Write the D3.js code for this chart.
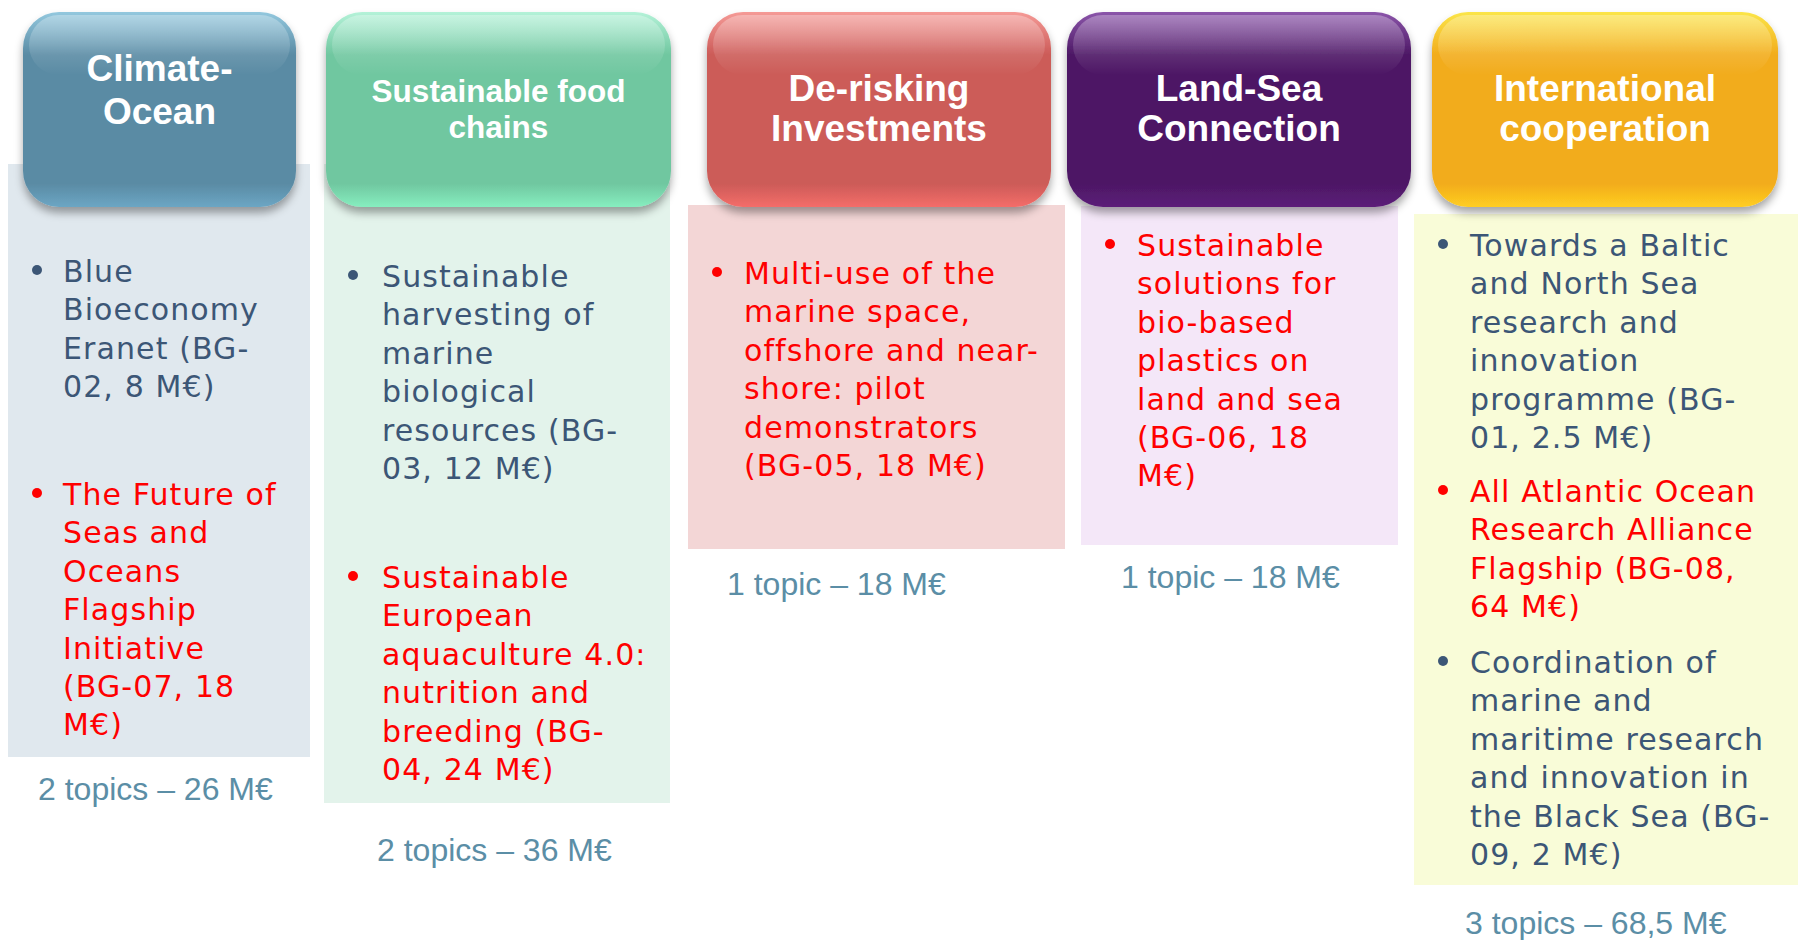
<!DOCTYPE html>
<html>
<head>
<meta charset="utf-8">
<script src="https://cdn.jsdelivr.net/npm/d3@7"></script>
<style>
  body { margin: 0; background: #fff; }
  svg { display: block; }
</style>
</head>
<body>
<div id="viz"></div>
<script>
// the five themes, their topics and totals
const themes = ["Climate-Ocean", "Sustainable food chains", "De-risking Investments", "Land-Sea Connection", "International cooperation"];
const headerLines = [
  ["Climate-", "Ocean"],
  ["Sustainable food", "chains"],
  ["De-risking", "Investments"],
  ["Land-Sea", "Connection"],
  ["International", "cooperation"]
];
// topic text per theme, as broken in the slide
const topicLines = [
  [["Blue", "Bioeconomy", "Eranet (BG-", "02, 8 M€)"],
   ["The Future of", "Seas and", "Oceans", "Flagship", "Initiative", "(BG-07, 18", "M€)"]],
  [["Sustainable", "harvesting of", "marine", "biological", "resources (BG-", "03, 12 M€)"],
   ["Sustainable", "European", "aquaculture 4.0:", "nutrition and", "breeding (BG-", "04, 24 M€)"]],
  [["Multi-use of the", "marine space,", "offshore and near-", "shore: pilot", "demonstrators", "(BG-05, 18 M€)"]],
  [["Sustainable", "solutions for", "bio-based", "plastics on", "land and sea", "(BG-06, 18", "M€)"]],
  [["Towards a Baltic", "and North Sea", "research and", "innovation", "programme (BG-", "01, 2.5 M€)"],
   ["All Atlantic Ocean", "Research Alliance", "Flagship (BG-08,", "64 M€)"],
   ["Coordination of", "marine and", "maritime research", "and innovation in", "the Black Sea (BG-", "09, 2 M€)"]]
];
// true = flagship / highlighted in red
const topicRed = [
  [false, true],
  [false, true],
  [true],
  [true],
  [false, true, false]
];
const footers = ["2 topics – 26 M€", "2 topics – 36 M€", "1 topic – 18 M€", "1 topic – 18 M€", "3 topics – 68,5 M€"];

// layout (pixels)
const W = 1798, H = 940;
const headerX = [23, 326, 707, 1067, 1432];
const headerW = [273, 345, 344, 344, 346];
const headerTop = 12, headerH = 195;
const headerTextY = [68, 91, 88, 88, 88];
const headerLineH = [43, 35.5, 40, 40, 40];
const headerSize = [37, 31.5, 37, 37, 37];
const panelBox = [
  [8, 164, 302, 593],
  [324, 164, 346, 639],
  [688, 205, 377, 344],
  [1081, 206, 317, 339],
  [1414, 214, 384, 671]
];
const bulletX = [37, 353, 717, 1110, 1443];
const textX = [63, 382, 744, 1137, 1470];
const topicY = [[271, 494], [276, 577], [273], [245], [245, 491, 662]];
const lineH = 38.4;
const footerX = [38, 377, 727, 1121, 1465];
const footerY = [789, 850, 584, 577, 923];

const baseColor = d3.scaleOrdinal().domain(themes)
  .range(["#5a8ba4", "#70c7a0", "#cc5b58", "#4d1865", "#f2ac1c"]);
const topColor = d3.scaleOrdinal().domain(themes)
  .range(["#93c8de", "#b4f2d8", "#f59a96", "#8b55aa", "#fbe548"]);
const panelColor = d3.scaleOrdinal().domain(themes)
  .range(["#e0e8ee", "#e3f3eb", "#f3d6d6", "#f4e7f8", "#f9fcd8"]);

const svg = d3.select("#viz").append("svg")
  .attr("width", W).attr("height", H);

const defs = svg.append("defs");
const shadow = defs.append("filter").attr("id", "shadow")
  .attr("x", "-10%").attr("y", "-10%").attr("width", "120%").attr("height", "130%");
shadow.append("feDropShadow")
  .attr("dx", 0).attr("dy", 6).attr("stdDeviation", 4)
  .attr("flood-color", "#000").attr("flood-opacity", 0.35);

themes.forEach((t, i) => {
  const g = defs.append("linearGradient").attr("id", "grad" + i)
    .attr("x1", 0).attr("y1", 0).attr("x2", 0).attr("y2", 1);
  g.append("stop").attr("offset", "0%").attr("stop-color", topColor(t));
  g.append("stop").attr("offset", "22%").attr("stop-color", baseColor(t));
  g.append("stop").attr("offset", "88%").attr("stop-color", baseColor(t));
  g.append("stop").attr("offset", "100%").attr("stop-color", d3.color(baseColor(t)).brighter(0.5));
});
const gloss = defs.append("linearGradient").attr("id", "gloss")
  .attr("x1", 0).attr("y1", 0).attr("x2", 0).attr("y2", 1);
gloss.append("stop").attr("offset", "0%").attr("stop-color", "#fff").attr("stop-opacity", 0.3);
gloss.append("stop").attr("offset", "100%").attr("stop-color", "#fff").attr("stop-opacity", 0);

const col = svg.selectAll(".theme")
  .data(themes)
  .join("g")
  .attr("class", "theme");

// light panels behind the topics
col.append("rect")
  .attr("x", (d, i) => panelBox[i][0])
  .attr("y", (d, i) => panelBox[i][1])
  .attr("width", (d, i) => panelBox[i][2])
  .attr("height", (d, i) => panelBox[i][3])
  .style("fill", d => panelColor(d));

// glossy header boxes
col.append("rect")
  .attr("x", (d, i) => headerX[i])
  .attr("y", headerTop)
  .attr("width", (d, i) => headerW[i])
  .attr("height", headerH)
  .attr("rx", 36).attr("ry", 36)
  .attr("filter", "url(#shadow)")
  .style("fill", (d, i) => `url(#grad${i})`);

col.append("rect")
  .attr("x", (d, i) => headerX[i] + 6)
  .attr("y", headerTop + 3)
  .attr("width", (d, i) => headerW[i] - 12)
  .attr("height", 60)
  .attr("rx", 30).attr("ry", 30)
  .style("fill", "url(#gloss)");

col.each(function(d, i) {
  const g = d3.select(this);
  const cx = headerX[i] + headerW[i] / 2;

  g.selectAll(".htxt")
    .data(headerLines[i])
    .join("text")
    .attr("class", "htxt")
    .attr("x", cx)
    .attr("y", (l, j) => headerTextY[i] + j * headerLineH[i] + headerSize[i] * 0.36)
    .attr("text-anchor", "middle")
    .style("font-family", "'Liberation Sans', Arial, sans-serif")
    .style("font-weight", "bold")
    .style("font-size", headerSize[i] + "px")
    .style("fill", "#fff")
    .text(l => l);

  topicLines[i].forEach((lines, k) => {
    const clr = topicRed[i][k] ? "#ff0000" : "#3c5676";
    const y0 = topicY[i][k];
    g.append("circle")
      .attr("cx", bulletX[i])
      .attr("cy", y0 - 1)
      .attr("r", 5)
      .style("fill", clr);
    g.selectAll(".t" + k)
      .data(lines)
      .join("text")
      .attr("class", "t" + k)
      .attr("x", textX[i])
      .attr("y", (l, j) => y0 + j * lineH + 11)
      .style("font-family", "'DejaVu Sans', Verdana, sans-serif")
      .style("font-size", "30px")
      .style("letter-spacing", "1.1px")
      .style("fill", clr)
      .text(l => l);
  });

  g.append("text")
    .attr("x", footerX[i])
    .attr("y", footerY[i] + 11)
    .style("font-family", "'Liberation Sans', Arial, sans-serif")
    .style("font-size", "32px")
    .style("fill", "#5b8ea6")
    .text(footers[i]);
});
</script>
</body>
</html>
